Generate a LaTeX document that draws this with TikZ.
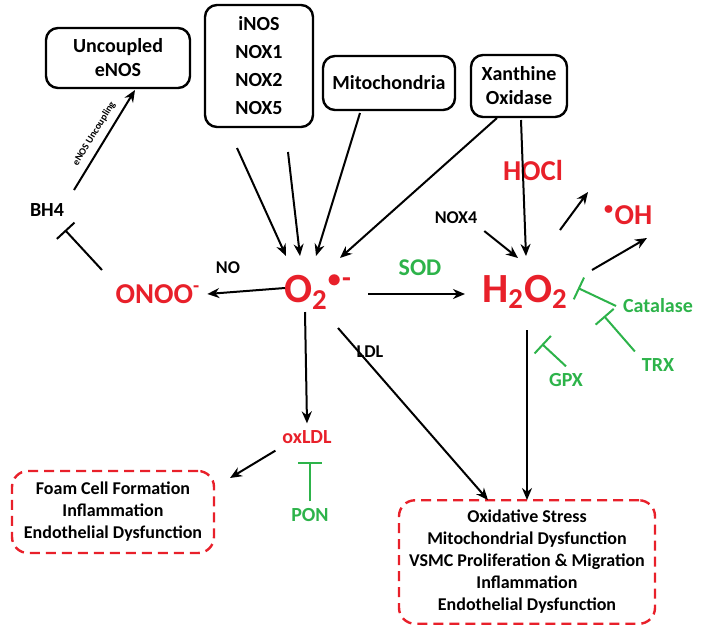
\documentclass[tikz,border=0pt]{standalone}
\usepackage{fontspec}
\setmainfont{Carlito}
\usetikzlibrary{arrows.meta,positioning}
\definecolor{rosred}{HTML}{E8202A}
\definecolor{antigreen}{HTML}{2DB34A}
\tikzset{
  src/.style={draw, very thick, rounded corners=6pt, align=center, font=\bfseries\normalsize, inner sep=4pt},
  effect/.style={draw=rosred, very thick, dashed, dash pattern=on 5pt off 3pt, rounded corners=8pt, align=center, font=\bfseries\small, inner sep=5pt},
  ros/.style={text=rosred, font=\bfseries\Large},
  big/.style={text=rosred, font=\bfseries\huge},
  anti/.style={text=antigreen, font=\bfseries\normalsize},
  lbl/.style={font=\bfseries\small},
  arr/.style={thick, line width=1pt, -{Stealth[length=6pt,width=5pt]}},
  inh/.style={thick, line width=1pt, antigreen, -{Bar[width=12pt]}},
}
\begin{document}
\begin{tikzpicture}[x=0.5pt,y=-0.5pt]
\useasboundingbox (0,0) rectangle (718,634);
% sources
\node[src, minimum width=72pt, minimum height=30pt] (enos) at (118,58) {Uncoupled\\eNOS};
\node[src, minimum width=54pt, minimum height=61pt] (nox) at (259,66) {iNOS\\[2pt]NOX1\\[2pt]NOX2\\[2pt]NOX5};
\node[src, minimum width=66pt, minimum height=27pt] (mito) at (389,83) {Mitochondria};
\node[src, minimum width=48pt, minimum height=31pt] (xo) at (519,86) {Xanthine\\Oxidase};

% species
\node[big] (o2) at (318,292) {O\textsubscript{2}\textsuperscript{$\bullet$-}};
\node[big] (h2o2) at (525,292) {H\textsubscript{2}O\textsubscript{2}};
\node[ros] (onoo) at (158,294) {ONOO\textsuperscript{-}};
\node[ros] (hocl) at (533,170) {HOCl};
\node[ros] (oh) at (628,215) {\textsuperscript{$\bullet$}OH};
\node[lbl, font=\bfseries\normalsize] (bh4) at (47,210) {BH4};
\node[text=rosred, font=\bfseries\normalsize] (oxldl) at (307,437) {oxLDL};

% labels
\node[lbl] (no) at (228,268) {NO};
\node[lbl] (nox4) at (456,218) {NOX4};
\node[lbl] (ldl) at (370,352) {LDL};
\node[anti, font=\bfseries\large] (sod) at (420,268) {SOD};
\node[anti] (cat) at (658,306) {Catalase};
\node[anti] (trx) at (658,365) {TRX};
\node[anti] (gpx) at (566,380) {GPX};
\node[anti] (pon) at (310,515) {PON};

% effects
\node[effect, minimum width=101pt, minimum height=41pt] (foam) at (113,512) {Foam Cell Formation\\Inflammation\\Endothelial Dysfunction};
\node[effect, minimum width=128pt, minimum height=54pt] (stress) at (527,562) {Oxidative Stress\\Mitochondrial Dysfunction\\VSMC Proliferation \& Migration\\Inflammation\\Endothelial Dysfunction};

% arrows into superoxide
\coordinate (o2in) at (300,256);
\draw[arr] (237,148) -- ([xshift=-7pt]o2in);
\draw[arr] (288,152) -- (o2in);
\draw[arr] (360,113) -- ([xshift=8pt]o2in);
\draw[arr] (497,118) -- (340,258);
\draw[arr] (521,120) -- (526,256);
\draw[arr] (nox4.south east) -- (518,258);

% superoxide reactions
\draw[arr] (285,288) -- (onoo.east);
\draw[arr] (368,294) -- (465,294);
\draw[arr] (305,312) -- (oxldl.north);
\draw[arr] (338,328) -- (488,500);
\draw[arr] (oxldl.south west) -- (230,478);
\draw[arr] (527,330) -- (527,500);
\coordinate (hoclin) at (588,192);
\coordinate (ohin) at (603,226);
\draw[arr] (560,230) -- (hoclin);
\draw[arr] (592,270) -- ([xshift=22pt,yshift=-6pt]ohin);

% eNOS uncoupling
\coordinate (enosin) at (135,90);
\draw[arr] (74,190) -- node[sloped, above, font=\bfseries\tiny] {eNOS Uncoupling} (enosin);
\draw[thick, line width=1pt, -{Bar[width=12pt]}] (102,270) -- (65,230);

% antioxidants
\draw[inh] (cat.west) -- (578,288);
\draw[inh] (trx.north west) -- (604,316);
\draw[inh] (gpx.north) -- (542,344);
\draw[inh] (pon.north) -- (310,462);
\end{tikzpicture}
\end{document}
